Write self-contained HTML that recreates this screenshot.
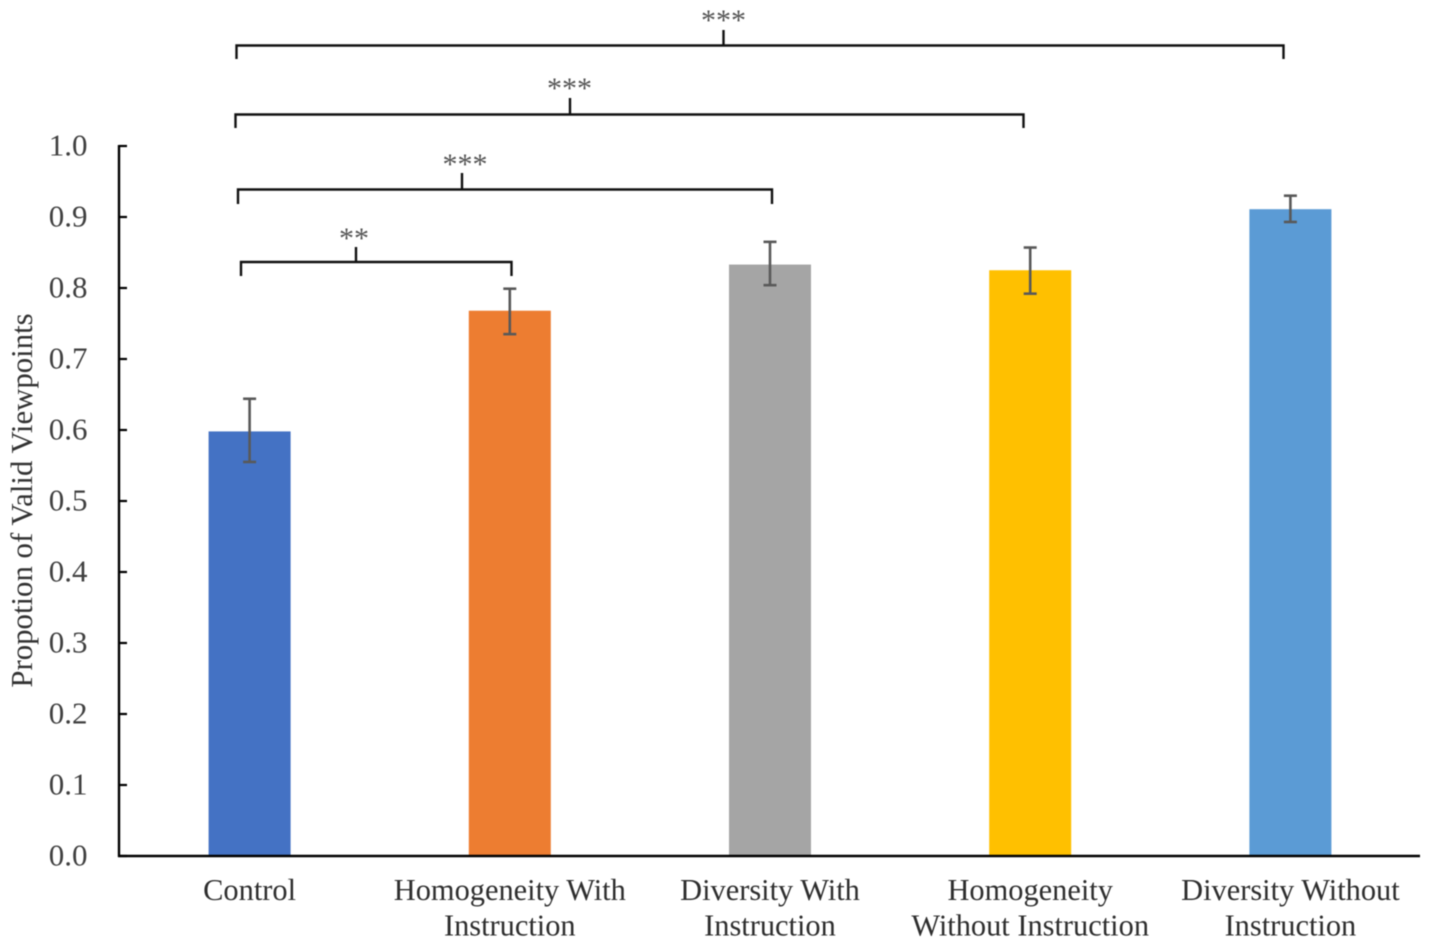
<!DOCTYPE html>
<html lang="en">
<head>
<meta charset="utf-8">
<title>Proportion of Valid Viewpoints</title>
<style>
html,body{margin:0;padding:0;background:#fff;}
body{width:1429px;height:945px;overflow:hidden;}
svg{display:block;font-family:"Liberation Serif",serif;filter:blur(0.5px);}
.tick{font-size:31px;fill:#404040;}
.cat{font-size:30.4px;fill:#2e2e2e;}
.title{font-size:30.8px;fill:#333;}
.stars{font-size:30px;fill:#555;}
</style>
</head>
<body>
<svg id="chart" width="1429" height="945" viewBox="0 0 1429 945" xmlns="http://www.w3.org/2000/svg">
  <rect width="1429" height="945" fill="#fff"/>
  <g id="bars"></g>
  <g id="errors"></g>
  <g id="axes"></g>
  <text class="title" transform="translate(32,500.500) rotate(-90)" text-anchor="middle">Propotion of Valid Viewpoints</text>
  <g fill="none" stroke="#111" stroke-width="2.4">
    <path d="M236.500 59V45.500H1283.500V59M723.500 30V45.500"/>
    <path d="M235.500 128V114.500H1023.500V128M570 98V114.500"/>
    <path d="M238 204V189.500H772V204M462 173V189.500"/>
    <path d="M241 276V262H511.500V276M356 247V262"/>
  </g>
  <text class="stars" x="723.500" y="30" text-anchor="middle">***</text>
  <text class="stars" x="569.500" y="98" text-anchor="middle">***</text>
  <text class="stars" x="465" y="174" text-anchor="middle">***</text>
  <text class="stars" x="354" y="248" text-anchor="middle">**</text>
</svg>
<script>
const categories = [
  ["Control"],
  ["Homogeneity With", "Instruction"],
  ["Diversity With", "Instruction"],
  ["Homogeneity", "Without Instruction"],
  ["Diversity Without", "Instruction"]
];
const barValues = [0.598, 0.768, 0.833, 0.825, 0.911];
const errorHigh = [0.644, 0.799, 0.865, 0.857, 0.930];
const errorLow = [0.555, 0.735, 0.804, 0.792, 0.893];
const barColors = ["#4472c4", "#ed7d31", "#a5a5a5", "#ffc000", "#5b9bd5"];
const yTicks = [0, 0.1, 0.2, 0.3, 0.4, 0.5, 0.6, 0.7, 0.8, 0.9, 1.0];

const NS = "http://www.w3.org/2000/svg";
const plotLeft = 119, plotRight = 1420, plotBottom = 856, plotTop = 146;
const barWidth = 82;
function yScale(v) { return plotBottom - v * (plotBottom - plotTop); }
function xScale(i) { return plotLeft + (plotRight - plotLeft) * (i + 0.5) / categories.length; }
function make(tag, attrs, parent) {
  const el = document.createElementNS(NS, tag);
  for (const k in attrs) el.setAttribute(k, attrs[k]);
  parent.appendChild(el);
  return el;
}
const barsG = document.getElementById("bars");
const errG = document.getElementById("errors");
const axesG = document.getElementById("axes");

barValues.forEach(function (v, i) {
  const x = xScale(i);
  const bar = make("rect", { x: x - barWidth / 2 + 0.5, y: yScale(v), width: barWidth, height: plotBottom - yScale(v), fill: barColors[i] }, barsG);
  
  

  const hi = yScale(errorHigh[i]), lo = yScale(errorLow[i]);
  const stem = make("line", { x1: x + 0.5, x2: x + 0.5, y1: hi, y2: lo, stroke: "#595959", "stroke-width": 2.6 }, errG);
  
  
  const capTop = make("line", { x1: x - 6, x2: x + 7, y1: hi, y2: hi, stroke: "#595959", "stroke-width": 2.6 }, errG);
  
  
  const capLow = make("line", { x1: x - 6, x2: x + 7, y1: lo, y2: lo, stroke: "#595959", "stroke-width": 2.6 }, errG);
  
  

  categories[i].forEach(function (line, n) {
    const t = make("text", { x: x + 0.5, y: 900 + n * 35.5, "text-anchor": "middle", class: "cat" }, axesG);
    t.textContent = line;
    
    
  });
});

const yAxis = make("line", { x1: plotLeft, x2: plotLeft, y1: plotTop - 1, y2: plotBottom + 1, stroke: "#000", "stroke-width": 2.4 }, axesG);


const xAxis = make("line", { x1: plotLeft - 1, x2: plotRight, y1: plotBottom, y2: plotBottom, stroke: "#000", "stroke-width": 2.4 }, axesG);



yTicks.forEach(function (v) {
  const y = yScale(v);
  const tick = make("line", { x1: plotLeft, x2: plotLeft + 8, y1: y, y2: y, stroke: "#000", "stroke-width": 2.2 }, axesG);
  
  
  const label = make("text", { x: 87.5, y: y + 9.5, "text-anchor": "end", class: "tick" }, axesG);
  label.textContent = v.toFixed(1);
  
  
});
</script>
</body>
</html>
